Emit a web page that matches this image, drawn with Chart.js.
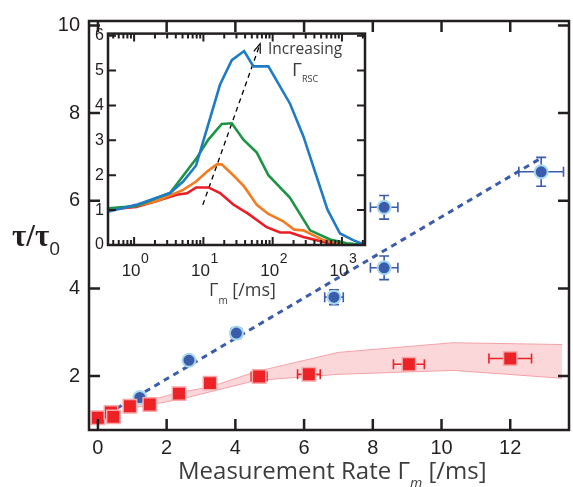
<!DOCTYPE html>
<html>
<head>
<meta charset="utf-8">
<title>tau / tau0 vs measurement rate</title>
<script src="https://cdn.jsdelivr.net/npm/chart.js@4.4.1/dist/chart.umd.min.js"></script>
<style>
  html, body { margin: 0; padding: 0; background: #fff; }
  #wrap { position: relative; width: 573px; height: 487px; overflow: hidden; }
  #wrap canvas { position: absolute; }
  #main { left: 0; top: 0; }
  #inset { left: 91px; top: 20px; }
  .lbl { position: absolute; white-space: nowrap; line-height: 1; color: #2b2829; font-family: "Open Sans", sans-serif; }
  .sub { position: relative; }
</style>
</head>
<body>
<div id="wrap">
  <canvas id="main" width="573" height="487"></canvas>
  <canvas id="inset" width="284" height="280"></canvas>
  <div class="lbl" style="left:12px; top:218px; font: bold 31px 'Liberation Serif', serif; color:#231f20;">τ/τ<span class="sub" style="font: 19px 'Open Sans', sans-serif; top:9px;">0</span></div>
  <div class="lbl" style="left:178px; top:458px; font-size:24px; color:#3d3b3c;">Measurement Rate Γ<span class="sub" style="font-size:14px; top:9px; font-style:italic;">m</span> [/ms]</div>
  <div class="lbl" style="left:209px; top:280px; font-size:18px; color:#3d3b3c;">Γ<span class="sub" style="font-size:10px; top:8px;">m</span> [/ms]</div>
  <div class="lbl" style="left:268px; top:41px; font-size:15.5px; color:#3d3b3c;">Increasing</div>
  <div class="lbl" style="left:292px; top:60px; font-size:19px; color:#3d3b3c;">Γ<span class="sub" style="font-size:9px; top:6px;">RSC</span></div>
</div>
<script>
// main plot: tau/tau0 vs measurement rate
const xTicks = [0, 2, 4, 6, 8, 10, 12];
const yTicks = [2, 4, 6, 8, 10];

const blueX = [1.22, 2.65, 4.03, 6.87, 8.33, 8.33, 12.9];
const blueY = [1.51, 2.36, 2.98, 3.8, 4.47, 5.85, 6.66];
const blueXErr = [0.08, 0.1, 0.15, 0.27, 0.4, 0.4, 0.65];
const blueYErr = [0.08, 0.08, 0.12, 0.17, 0.27, 0.27, 0.33];

const redX = [0, 0.38, 0.45, 0.93, 1.51, 2.36, 3.26, 4.69, 6.14, 9.05, 12.0];
const redY = [1.05, 1.17, 1.07, 1.31, 1.35, 1.6, 1.84, 1.99, 2.04, 2.27, 2.4];
const redXErr = [0, 0, 0, 0, 0, 0, 0, 0.23, 0.33, 0.45, 0.62];

const fitX = [0.54, 12.85];
const fitY = [1.26, 6.95];

const bandX = [0.93, 2.39, 3.26, 4.6, 6.99, 10.33, 13.51];
const bandLow = [1.26, 1.47, 1.64, 1.9, 2.04, 2.13, 1.95];
const bandHigh = [1.33, 1.63, 1.75, 2.1, 2.54, 2.76, 2.72];

// inset: tau/tau0 vs gamma_m for increasing gamma_RSC
const insetYTicks = [0, 1, 2, 3, 4, 5, 6];
const insetXTicks = [1, 10, 100, 1000];
const insetXExp = ['0', '1', '2', '3'];

const insetBlueX = [0.43, 1.07, 3.3, 5.1, 7.85, 17.4, 25.7, 38.7, 52.7, 86.7, 178, 277, 616, 937, 1450, 2150];
const insetBlueY = [0.96, 1.15, 1.49, 1.82, 2.28, 4.6, 5.3, 5.56, 5.12, 5.12, 4.05, 3.12, 1.02, 0.33, 0.14, 0];
const insetGreenX = [0.43, 1.07, 3.3, 7.85, 11.8, 18.4, 25.7, 37.8, 59, 86.7, 178, 347, 673, 1175, 2150];
const insetGreenY = [1.05, 1.12, 1.49, 2.47, 3.02, 3.47, 3.49, 3.02, 2.65, 2.0, 1.35, 0.42, 0.16, 0.05, 0];
const insetOrangeX = [0.43, 1.07, 2.13, 5.1, 7.85, 11.2, 15.6, 18.4, 27, 38.7, 59, 86.7, 142, 204, 277, 537, 1050, 2150];
const insetOrangeY = [1.02, 1.12, 1.26, 1.58, 1.82, 2.1, 2.31, 2.31, 2.0, 1.68, 1.15, 0.89, 0.68, 0.44, 0.42, 0.14, 0.02, 0];
const insetRedX = [0.43, 1.07, 2.13, 4.1, 5.8, 7.85, 11.8, 17.4, 27, 44.6, 82, 128, 178, 277, 537, 1050, 2150];
const insetRedY = [1.02, 1.09, 1.26, 1.44, 1.48, 1.65, 1.65, 1.49, 1.16, 0.89, 0.51, 0.36, 0.36, 0.23, 0.09, 0.02, 0];
const arrowX = [9.8, 66];
const arrowY = [1.15, 5.77];

const INK = '#231f20';
const TICK_FONT = 'Liberation Sans';

function pts(xs, ys) {
    return xs.map((x, i) => ({ x: x, y: ys[i] }));
}

function setTicks(values) {
    return function (scale) {
        scale.ticks = values.map(v => ({ value: v }));
    };
}

function minorLogTicks(min, max) {
    const out = [];
    for (let d = 0.1; d <= max; d *= 10) {
        for (let k = 2; k <= 9; k++) {
            const v = k * d;
            if (v >= min && v <= max) out.push(v);
        }
    }
    return out;
}

// box round the plot area and ticks pointing inward on all four sides
const frameTicks = {
    id: 'frameTicks',
    afterDraw(chart, args, opts) {
        const ctx = chart.ctx;
        const a = chart.chartArea;
        const xs = chart.scales.x;
        const ys = chart.scales.y;
        ctx.save();
        ctx.strokeStyle = INK;
        ctx.lineWidth = opts.width;
        ctx.beginPath();
        const xTick = (v, len) => {
            const px = xs.getPixelForValue(v);
            if (px < a.left + 1 || px > a.right - 1) return;
            ctx.moveTo(px, a.bottom); ctx.lineTo(px, a.bottom - len);
            ctx.moveTo(px, a.top); ctx.lineTo(px, a.top + len);
        };
        const yTick = (v, len) => {
            const py = ys.getPixelForValue(v);
            if (py < a.top + 1 || py > a.bottom - 1) return;
            ctx.moveTo(a.left, py); ctx.lineTo(a.left + len, py);
            ctx.moveTo(a.right, py); ctx.lineTo(a.right - len, py);
        };
        opts.xMajor.forEach(v => xTick(v, opts.len));
        (opts.xMinor || []).forEach(v => xTick(v, opts.minorLen));
        opts.yMajor.forEach(v => yTick(v, opts.len));
        ctx.stroke();
        ctx.lineWidth = opts.boxWidth;
        ctx.strokeRect(a.left, a.top, a.right - a.left, a.bottom - a.top);
        ctx.restore();
    }
};

// error bars drawn just before their own points
const errorBars = {
    id: 'errorBars',
    beforeDatasetDraw(chart, args) {
        const ds = chart.data.datasets[args.index];
        if (!ds.errX && !ds.errY) return;
        const ctx = chart.ctx;
        const xs = chart.scales.x;
        const ys = chart.scales.y;
        const cap = 5;
        ctx.save();
        ctx.strokeStyle = ds.errColor;
        ctx.lineWidth = 1.6;
        ctx.beginPath();
        ds.data.forEach((p, i) => {
            const px = xs.getPixelForValue(p.x);
            const py = ys.getPixelForValue(p.y);
            const ex = ds.errX ? ds.errX[i] : 0;
            const ey = ds.errY ? ds.errY[i] : 0;
            if (ex > 0) {
                const x0 = xs.getPixelForValue(p.x - ex);
                const x1 = xs.getPixelForValue(p.x + ex);
                ctx.moveTo(x0, py); ctx.lineTo(x1, py);
                ctx.moveTo(x0, py - cap); ctx.lineTo(x0, py + cap);
                ctx.moveTo(x1, py - cap); ctx.lineTo(x1, py + cap);
            }
            if (ey > 0) {
                const y0 = ys.getPixelForValue(p.y - ey);
                const y1 = ys.getPixelForValue(p.y + ey);
                ctx.moveTo(px, y0); ctx.lineTo(px, y1);
                ctx.moveTo(px - cap, y0); ctx.lineTo(px + cap, y0);
                ctx.moveTo(px - cap, y1); ctx.lineTo(px + cap, y1);
            }
        });
        ctx.stroke();
        ctx.restore();
    }
};

new Chart(document.getElementById('main'), {
    type: 'scatter',
    data: {
        datasets: [
            {
                label: 'band low',
                data: pts(bandX, bandLow),
                showLine: true,
                borderColor: '#f4a2a8',
                borderWidth: 1,
                pointRadius: 0,
                fill: false,
                order: 4
            },
            {
                label: 'band high',
                data: pts(bandX, bandHigh),
                showLine: true,
                borderColor: '#f4a2a8',
                borderWidth: 1,
                pointRadius: 0,
                fill: '-1',
                backgroundColor: 'rgba(245, 160, 168, 0.42)',
                order: 3
            },
            {
                label: 'fit',
                data: pts(fitX, fitY),
                showLine: true,
                borderColor: '#3a5cab',
                borderWidth: 3,
                borderDash: [6, 5],
                pointRadius: 0,
                order: 2
            },
            {
                label: 'blue',
                data: pts(blueX, blueY),
                pointRadius: 6.5,
                backgroundColor: '#3a5cab',
                borderColor: '#a6d8f0',
                borderWidth: 2,
                errX: blueXErr,
                errY: blueYErr,
                errColor: '#3a5cab',
                order: 1
            },
            {
                label: 'red',
                data: pts(redX, redY),
                pointStyle: 'rect',
                pointRadius: 9.5,
                backgroundColor: '#ec2227',
                borderColor: '#f7a9ac',
                borderWidth: 1.5,
                errX: redXErr,
                errColor: '#ec2227',
                order: 0
            }
        ]
    },
    options: {
        responsive: false,
        animation: false,
        devicePixelRatio: 1,
        layout: { autoPadding: false, padding: { top: 13, right: 4, left: 0, bottom: 0 } },
        plugins: {
            legend: { display: false },
            tooltip: { enabled: false },
            frameTicks: { width: 2.5, boxWidth: 2.5, len: 11, xMajor: xTicks, yMajor: yTicks }
        },
        scales: {
            x: {
                type: 'linear',
                min: -0.26,
                max: 13.71,
                grid: { display: false, drawTicks: false },
                border: { display: false },
                ticks: { color: INK, font: { family: TICK_FONT, size: 20 }, padding: 6, maxRotation: 0 },
                afterBuildTicks: setTicks(xTicks),
                afterFit: s => { s.height = 57; }
            },
            y: {
                type: 'linear',
                min: 0.77,
                max: 10.1,
                grid: { display: false, drawTicks: false },
                border: { display: false },
                ticks: { color: INK, font: { family: TICK_FONT, size: 20 }, padding: 9 },
                afterBuildTicks: setTicks(yTicks),
                afterFit: s => { s.width = 89; }
            }
        }
    },
    plugins: [frameTicks, errorBars]
});

// inset: white panel, log x labels with exponents, arrow head
const insetExtras = {
    id: 'insetExtras',
    beforeDraw(chart) {
        const a = chart.chartArea;
        chart.ctx.save();
        chart.ctx.fillStyle = '#fff';
        chart.ctx.fillRect(a.left, a.top, a.right - a.left, a.bottom - a.top);
        chart.ctx.restore();
    },
    afterDraw(chart) {
        const ctx = chart.ctx;
        const a = chart.chartArea;
        const xs = chart.scales.x;
        ctx.save();
        ctx.fillStyle = INK;
        insetXTicks.forEach((v, i) => {
            const px = xs.getPixelForValue(v);
            ctx.font = '17px "' + TICK_FONT + '"';
            ctx.textAlign = 'center';
            ctx.fillText('10', px - 3, a.bottom + 31);
            ctx.font = '14px "' + TICK_FONT + '"';
            ctx.textAlign = 'left';
            ctx.fillText(insetXExp[i], px + 7, a.bottom + 18);
        });
        // open arrow head at the end of the dashed guide
        const meta = chart.getDatasetMeta(4);
        const p0 = meta.data[0];
        const p1 = meta.data[1];
        const ang = Math.atan2(p1.y - p0.y, p1.x - p0.x);
        ctx.strokeStyle = '#000';
        ctx.lineWidth = 1.2;
        ctx.beginPath();
        ctx.moveTo(p1.x - 10 * Math.cos(ang - 0.35), p1.y - 10 * Math.sin(ang - 0.35));
        ctx.lineTo(p1.x, p1.y);
        ctx.lineTo(p1.x - 10 * Math.cos(ang + 0.35), p1.y - 10 * Math.sin(ang + 0.35));
        ctx.stroke();
        ctx.restore();
    }
};

function insetLine(label, xs, ys, color) {
    return {
        label: label,
        data: pts(xs, ys),
        showLine: true,
        borderColor: color,
        borderWidth: 2.6,
        pointRadius: 0,
        tension: 0
    };
}

new Chart(document.getElementById('inset'), {
    type: 'scatter',
    data: {
        datasets: [
            insetLine('blue', insetBlueX, insetBlueY, '#1f7bc4'),
            insetLine('green', insetGreenX, insetGreenY, '#1b9445'),
            insetLine('orange', insetOrangeX, insetOrangeY, '#f47b20'),
            insetLine('red', insetRedX, insetRedY, '#ec1c24'),
            {
                label: 'increasing',
                data: pts(arrowX, arrowY),
                showLine: true,
                borderColor: '#000',
                borderWidth: 1.3,
                borderDash: [5, 4],
                pointRadius: 0
            }
        ]
    },
    options: {
        responsive: false,
        animation: false,
        devicePixelRatio: 1,
        layout: { autoPadding: false, padding: { top: 8, right: 10, left: 0, bottom: 0 } },
        plugins: {
            legend: { display: false },
            tooltip: { enabled: false },
            frameTicks: {
                width: 2, boxWidth: 2.5, len: 8, minorLen: 5,
                xMajor: insetXTicks, xMinor: minorLogTicks(0.42, 2150), yMajor: insetYTicks
            }
        },
        scales: {
            x: {
                type: 'logarithmic',
                min: 0.42,
                max: 2150,
                grid: { display: false, drawTicks: false },
                border: { display: false },
                ticks: { display: false },
                afterFit: s => { s.height = 55; }
            },
            y: {
                type: 'linear',
                min: 0,
                max: 6.06,
                grid: { display: false, drawTicks: false },
                border: { display: false },
                ticks: { color: INK, font: { family: TICK_FONT, size: 16 }, padding: 4 },
                afterBuildTicks: setTicks(insetYTicks),
                afterFit: s => { s.width = 17; }
            }
        }
    },
    plugins: [insetExtras, frameTicks]
});
</script>
</body>
</html>
